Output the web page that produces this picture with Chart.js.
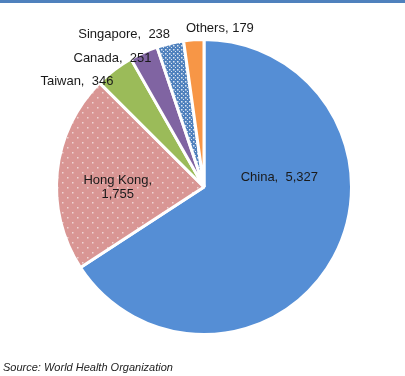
<!DOCTYPE html>
<html>
<head>
<meta charset="utf-8">
<script src="https://cdn.jsdelivr.net/npm/chart.js@4.4.1/dist/chart.umd.min.js"></script>
<style>
body { margin: 0; background: #fff; }
#wrap { position: relative; width: 405px; height: 376px; }
#topbar { position: absolute; left: 0; top: 0; width: 405px; height: 3px; background: #4f81bd; }
#source { position: absolute; left: 3px; top: 361px; font: italic 11px "Liberation Sans", Arial, sans-serif; color: #222; }
</style>
</head>
<body>
<div id="wrap">
<div id="topbar"></div>
<canvas id="pie" width="405" height="376"></canvas>
<div id="source">Source: World Health Organization</div>
</div>
<script>
// data
var countries = ["China", "Hong Kong", "Taiwan", "Canada", "Singapore", "Others"];
var cases = [5327, 1755, 346, 251, 238, 179];
var labelLines = [["China,  5,327"], ["Hong Kong,", "1,755"], ["Taiwan,  346"], ["Canada,  251"], ["Singapore,  238"], ["Others, 179"]];

// label placement: radius factor and angle shift (deg) from slice middle
var labelRadius = [0.515, 0.585, 1.12, 1.07, 1.17, 1.08];
var labelShift = [-35.9, -6.2, -12.9, -11.3, -14.3, 9.7];

function dots(base, size, pts, alpha) {
	var c = document.createElement("canvas");
	c.width = size;
	c.height = size;
	var g = c.getContext("2d");
	g.fillStyle = base;
	g.fillRect(0, 0, size, size);
	g.fillStyle = "rgba(255,255,255," + alpha + ")";
	for (var i = 0; i < pts.length; i++) {
		g.fillRect(pts[i][0], pts[i][1], 1.5, 1.5);
	}
	return g.createPattern(c, "repeat");
}

var colors = [
	"#558ed5",
	dots("#d99694", 10, [[2, 2], [7, 7]], 0.6),
	"#9bbb59",
	"#8064a2",
	dots("#4f81bd", 4, [[1, 1], [3, 3]], 0.8),
	"#f79646"
];

var sliceLabels = {
	id: "sliceLabels",
	afterDatasetsDraw: function(chart) {
		var ctx = chart.ctx;
		var arcs = chart.getDatasetMeta(0).data;
		ctx.save();
		ctx.font = '13px "Liberation Sans", Arial, sans-serif';
		ctx.fillStyle = "#1a1a1a";
		ctx.textAlign = "center";
		ctx.textBaseline = "middle";
		for (var i = 0; i < arcs.length; i++) {
			var p = arcs[i].getProps(["x", "y", "startAngle", "endAngle", "outerRadius"], true);
			var a = (p.startAngle + p.endAngle) / 2 + labelShift[i] * Math.PI / 180;
			var r = p.outerRadius * labelRadius[i];
			var x = p.x + Math.cos(a) * r;
			var y = p.y + Math.sin(a) * r;
			var lines = labelLines[i];
			for (var j = 0; j < lines.length; j++) {
				ctx.fillText(lines[j], x, y + (j - (lines.length - 1) / 2) * 14);
			}
		}
		ctx.restore();
	}
};

var ctx = document.getElementById("pie").getContext("2d");
var myPie = new Chart(ctx, {
	type: "pie",
	data: {
		labels: countries,
		datasets: [{
			data: cases,
			backgroundColor: colors,
			borderColor: "#fff",
			borderWidth: 3
		}]
	},
	options: {
		responsive: false,
		animation: false,
		events: [],
		layout: {
			padding: { top: 38, bottom: 40, left: 3, right: 0 }
		},
		plugins: {
			legend: { display: false },
			tooltip: { enabled: false }
		}
	},
	plugins: [sliceLabels]
});
</script>
</body>
</html>
